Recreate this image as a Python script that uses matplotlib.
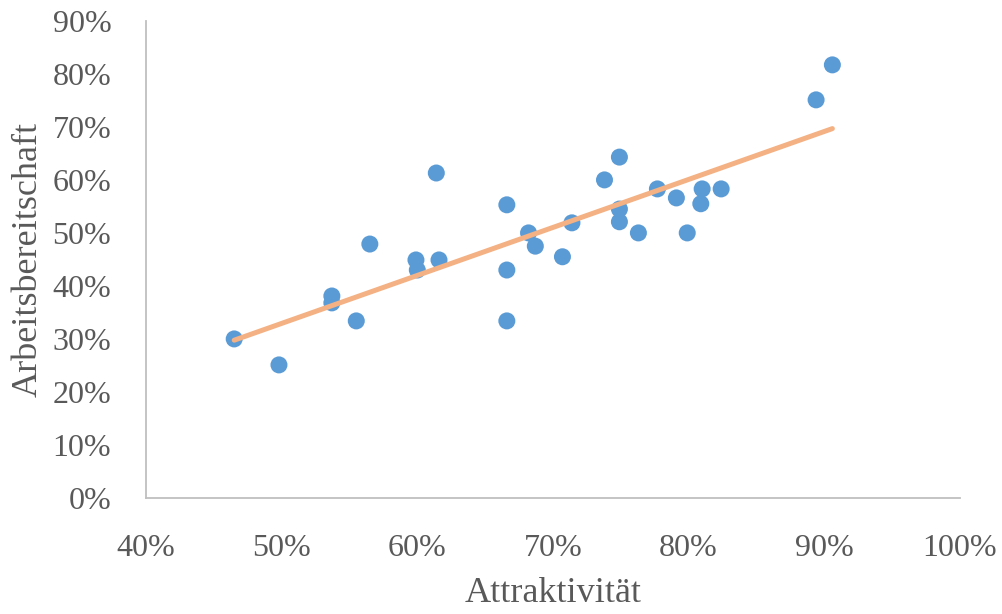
import numpy as np
import matplotlib
matplotlib.use("Agg")
import matplotlib.pyplot as plt
from matplotlib.ticker import PercentFormatter

# Attraktivität (x) vs. Arbeitsbereitschaft (y)
attraktivitaet = [0.465, 0.498, 0.537, 0.537, 0.555, 0.565, 0.599, 0.600, 0.614, 0.616,
                  0.666, 0.666, 0.666, 0.682, 0.687, 0.707, 0.714, 0.738, 0.749, 0.749,
                  0.749, 0.763, 0.777, 0.791, 0.799, 0.810, 0.809, 0.824, 0.894, 0.906]
arbeitsbereitschaft = [0.300, 0.251, 0.381, 0.368, 0.334, 0.479, 0.449, 0.430, 0.613, 0.449,
                       0.553, 0.430, 0.334, 0.500, 0.475, 0.455, 0.519, 0.600, 0.643, 0.545,
                       0.521, 0.500, 0.583, 0.566, 0.500, 0.583, 0.555, 0.583, 0.751, 0.817]

x_ticks = [0.4, 0.5, 0.6, 0.7, 0.8, 0.9, 1.0]
y_ticks = [0.0, 0.1, 0.2, 0.3, 0.4, 0.5, 0.6, 0.7, 0.8, 0.9]

text_col = "#595959"
plt.rcParams["font.family"] = ["Liberation Serif", "DejaVu Serif"]

fig = plt.figure(figsize=(10.03, 6.14), dpi=100)
ax = fig.add_axes([0.1456, 0.189, 0.957 - 0.1456, 0.966 - 0.189])

x = np.array(attraktivitaet)
y = np.array(arbeitsbereitschaft)

# linear trendline like Excel
k, d = np.polyfit(x, y, 1)
xs = np.array([x.min(), x.max()])
ax.plot(xs, k * xs + d, color="#F4B183", lw=3.6, solid_capstyle="round", zorder=3)
ax.scatter(x, y, s=150, color="#5B9BD5", edgecolors="none", zorder=2)

ax.set_xlim(0.4, 1.0)
ax.set_ylim(0.0, 0.9)
ax.set_xticks(x_ticks)
ax.set_yticks(y_ticks)
ax.xaxis.set_major_formatter(PercentFormatter(1.0, decimals=0))
ax.yaxis.set_major_formatter(PercentFormatter(1.0, decimals=0))
ax.tick_params(length=0, labelsize=23, colors=text_col)
ax.tick_params(axis="x", pad=26)
ax.tick_params(axis="y", pad=25)

for s in ["top", "right"]:
    ax.spines[s].set_visible(False)
for s in ["left", "bottom"]:
    ax.spines[s].set_color("#BFBFBF")
    ax.spines[s].set_linewidth(1.3)

ax.set_xlabel("Attraktivität", fontsize=26, color=text_col, labelpad=10)
ax.set_ylabel("Arbeitsbereitschaft", fontsize=26, color=text_col, labelpad=6)

fig.savefig("out.png", dpi=100)
